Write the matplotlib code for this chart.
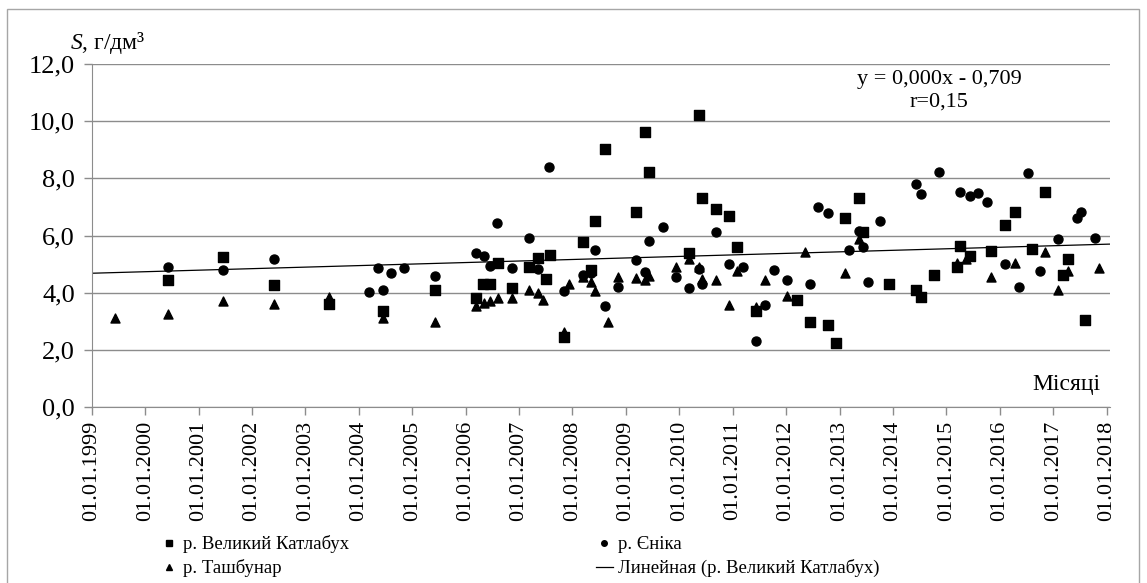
import numpy as np
import matplotlib
matplotlib.use('Agg')
import matplotlib.pyplot as plt
from matplotlib.lines import Line2D
from matplotlib.patches import Rectangle

plt.rcParams['font.family'] = 'serif'
plt.rcParams['font.serif'] = ['Liberation Serif', 'DejaVu Serif']
plt.rcParams['mathtext.fontset'] = 'custom'
plt.rcParams['mathtext.it'] = 'Liberation Serif:italic'
plt.rcParams['mathtext.rm'] = 'Liberation Serif'

# === DATA (year as decimal, salinity g/dm3) ===
katlabukh_x = [2000.43, 2001.45, 2002.42, 2003.44, 2004.45, 2005.43, 2006.20, 2006.33,
               2006.45, 2006.60, 2006.87, 2007.18, 2007.36, 2007.50, 2007.58, 2007.85,
               2008.19, 2008.35, 2008.43, 2008.61, 2009.19, 2009.35, 2009.44, 2010.18,
               2010.36, 2010.42, 2010.69, 2010.94, 2011.09, 2011.44, 2012.20, 2012.45,
               2012.78, 2012.94, 2013.11, 2013.36, 2013.44, 2013.92, 2014.44, 2014.52,
               2014.77, 2015.20, 2015.26, 2015.45, 2015.84, 2016.09, 2016.28, 2016.61,
               2016.85, 2017.19, 2017.28, 2017.59]
katlabukh_y = [4.45, 5.25, 4.27, 3.62, 3.37, 4.09, 3.82, 4.32,
               4.31, 5.04, 4.18, 4.89, 5.21, 4.49, 5.32, 2.44,
               5.78, 4.80, 6.50, 9.03, 6.84, 9.64, 8.22, 5.39,
               10.23, 7.30, 6.92, 6.67, 5.60, 3.36, 3.76, 2.99,
               2.87, 2.23, 6.60, 7.30, 6.13, 4.31, 4.10, 3.84,
               4.63, 4.89, 5.65, 5.29, 5.46, 6.37, 6.81, 5.52,
               7.52, 4.61, 5.18, 3.05]

yenika_x = [2000.43, 2001.45, 2002.42, 2004.19, 2004.35, 2004.45, 2004.60, 2004.84,
            2005.43, 2006.20, 2006.35, 2006.45, 2006.58, 2006.87, 2007.18, 2007.36,
            2007.57, 2007.85, 2008.19, 2008.35, 2008.43, 2008.61, 2008.86, 2009.19,
            2009.35, 2009.44, 2009.69, 2009.94, 2010.18, 2010.36, 2010.42, 2010.69,
            2010.94, 2011.19, 2011.44, 2011.61, 2011.78, 2012.02, 2012.45, 2012.59,
            2012.78, 2013.18, 2013.36, 2013.44, 2013.53, 2013.76, 2014.44, 2014.52,
            2014.86, 2015.26, 2015.45, 2015.60, 2015.77, 2016.09, 2016.37, 2016.53,
            2016.76, 2017.10, 2017.45, 2017.53, 2017.78]
yenika_y = [4.91, 4.81, 5.18, 4.03, 4.86, 4.10, 4.69, 4.87,
            4.60, 5.38, 5.28, 4.92, 6.43, 4.87, 5.91, 4.82,
            8.40, 4.07, 4.62, 4.68, 5.50, 3.53, 4.21, 5.14,
            4.72, 5.81, 6.29, 4.56, 4.16, 4.82, 4.30, 6.13,
            5.00, 4.90, 2.31, 3.56, 4.80, 4.46, 4.32, 6.99,
            6.78, 5.48, 6.16, 5.60, 4.38, 6.51, 7.80, 7.46,
            8.24, 7.51, 7.39, 7.48, 7.19, 5.01, 4.19, 8.18,
            4.77, 5.87, 6.61, 6.81, 5.93]

tashbunar_x = [1999.44, 2000.43, 2001.45, 2002.42, 2003.44, 2004.45, 2005.43, 2006.20,
               2006.35, 2006.45, 2006.60, 2006.87, 2007.18, 2007.36, 2007.45, 2007.85,
               2007.94, 2008.19, 2008.35, 2008.43, 2008.67, 2008.86, 2009.19, 2009.35,
               2009.44, 2009.94, 2010.18, 2010.36, 2010.42, 2010.69, 2010.94, 2011.09,
               2011.44, 2011.61, 2012.02, 2012.36, 2013.11, 2013.36, 2015.20, 2015.37,
               2015.84, 2016.28, 2016.85, 2017.10, 2017.28, 2017.86]
tashbunar_y = [3.11, 3.26, 3.72, 3.62, 3.85, 3.13, 2.99, 3.53,
               3.65, 3.70, 3.83, 3.83, 4.09, 3.99, 3.74, 2.62,
               4.31, 4.55, 4.38, 4.07, 2.99, 4.55, 4.53, 4.45,
               4.60, 4.91, 5.17, 4.89, 4.47, 4.45, 3.57, 4.77,
               3.49, 4.45, 3.90, 5.44, 4.70, 5.87, 5.03, 5.17,
               4.54, 5.03, 5.42, 4.10, 4.77, 4.88]

trend_start = 4.68      # value at 01.01.1999
trend_slope = 0.0535    # per year

tick_years = list(range(1999, 2019))
equation_text = "y = 0,000x - 0,709"
r_text = "r=0,15"

# === FIGURE ===
fig = plt.figure(figsize=(11.47, 5.83), dpi=100)
ax = fig.add_axes([0.080, 0.302, 0.888, 0.588])

grey = "#8c8c8c"
ax.scatter(katlabukh_x, katlabukh_y, marker="s", s=42, color="black", zorder=3)
ax.scatter(yenika_x, yenika_y, marker="o", s=42, color="black", zorder=3)
ax.scatter(tashbunar_x, tashbunar_y, marker="^", s=42, color="black", zorder=3)

xlim = (1999.0, 2018.07)
xx = np.array(xlim)
ax.plot(xx, trend_start + trend_slope * (xx - xlim[0]), color="black", lw=0.9, zorder=2)

ax.set_xlim(*xlim)
ax.set_ylim(0, 12)
yt = np.arange(0, 12.1, 2)
ax.set_yticks(yt)
ax.set_yticklabels([f"{v:.1f}".replace(".", ",") for v in yt], fontsize=19)
ax.set_xticks(tick_years)
ax.set_xticklabels([f"01.01.{y}" for y in tick_years], rotation=90, fontsize=16)
ax.grid(axis="y", color=grey, lw=1.0)
ax.set_axisbelow(True)
for side in ["top", "right"]:
    ax.spines[side].set_visible(False)
for side in ["left", "bottom"]:
    ax.spines[side].set_color(grey)
ax.tick_params(axis="both", colors=grey, length=6, width=1.0)
ax.tick_params(axis="y", labelcolor="black", pad=6)
ax.tick_params(axis="x", labelcolor="black", pad=4)

ax.text(0.832, 0.955, equation_text, transform=ax.transAxes, ha="center", va="center",
        fontsize=16)
ax.text(0.832, 0.89, r_text, transform=ax.transAxes, ha="center", va="center",
        fontsize=16)
ax.text(0.99, 0.065, "Місяці", transform=ax.transAxes, ha="right", va="center",
        fontsize=17)

fig.text(0.061, 0.927, "$S$, г/дм³", ha="left", va="center", fontsize=17)

handles = [
    Line2D([], [], marker="s", ls="none", color="black", markersize=4),
    Line2D([], [], marker="^", ls="none", color="black", markersize=4),
    Line2D([], [], marker="o", ls="none", color="black", markersize=4),
    Line2D([], [], color="black", lw=0.9),
]
labels = ["р. Великий Катлабух", "р. Ташбунар", "р. Єніка",
          "Линейная (р. Великий Катлабух)"]
fig.legend(handles, labels, ncol=2, loc="upper left", bbox_to_anchor=(0.132, 0.098),
           frameon=False, fontsize=13.5, handlelength=0.9, handletextpad=0.3,
           columnspacing=13.15, labelspacing=0.32, borderpad=0)

fig.patches.append(Rectangle((7 / 1147, -0.01), 1132 / 1147, 1 - 9 / 583 + 0.01,
                             transform=fig.transFigure, fill=False,
                             edgecolor="#a6a6a6", lw=1.0))

plt.savefig("out.png", dpi=100)
plt.close()
